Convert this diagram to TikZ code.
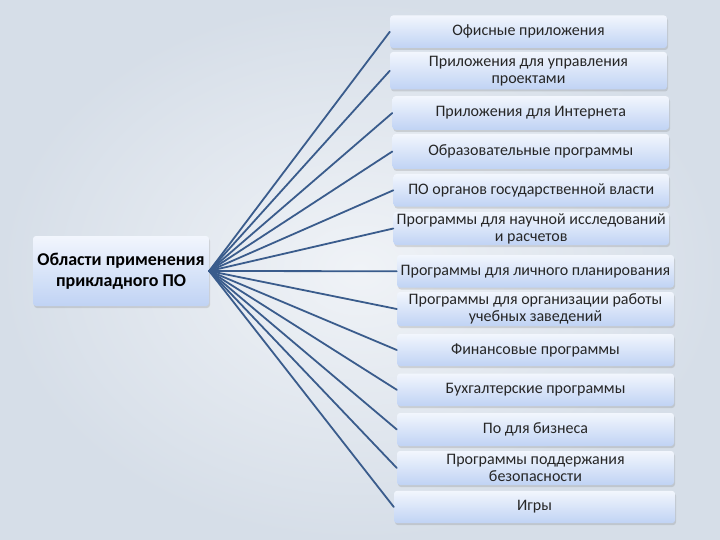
\documentclass[tikz,border=0pt]{standalone}
\usepackage{fontspec}
\setmainfont{Carlito}
\usetikzlibrary{shadows}
\definecolor{backdrop}{HTML}{F0F3F7}
\definecolor{backedge}{HTML}{D6DEE8}
\definecolor{boxtop}{HTML}{F2F6FD}
\definecolor{boxbottom}{HTML}{C0D3F4}
\definecolor{spoke}{HTML}{3A5C8C}
\newcommand{\boxfont}{\fontsize{16}{17}\selectfont}
\newcommand{\rootfont}{\fontsize{18}{21}\selectfont\bfseries}

\begin{document}
\begin{tikzpicture}[x=1pt,y=-1pt,
    area/.style={rounded corners=3pt, top color=boxtop, bottom color=boxbottom,
      drop shadow={shadow xshift=1pt, shadow yshift=-2pt, opacity=.2, fill=black!60},
      align=center, inner sep=0pt, text=black!85, font=\boxfont},
    spokeline/.style={spoke, line width=1.8pt, line cap=round}]
  % backdrop
  \useasboundingbox (0,0) rectangle (720,540);
  \fill[inner color=backdrop, outer color=backedge] (0,0) rectangle (720,540);

  % root box
  \node[area, minimum width=176, minimum height=70, font=\rootfont, text=black] (fields) at (121,271)
    {Области применения\\прикладного ПО};

  % leaf boxes
  \node[area, minimum width=277, minimum height=32.5] (office) at (528.5,31.75) {Офисные приложения};
  \node[area, minimum width=277, minimum height=37.5] (projects) at (528.5,70.75) {Приложения для управления\\проектами};
  \node[area, minimum width=276.5, minimum height=33.6] (internet) at (530.75,113) {Приложения для Интернета};
  \node[area, minimum width=276.5, minimum height=35] (education) at (530.75,151.5) {Образовательные программы};
  \node[area, minimum width=275.5, minimum height=32.6] (government) at (531.25,190.3) {ПО органов государственной власти};
  \node[area, minimum width=275.5, minimum height=33] (science) at (531.25,228.5) {Программы для научной исследований\\и расчетов};
  \node[area, minimum width=277, minimum height=32.5] (planning) at (535.5,271.25) {Программы для личного планирования};
  \node[area, minimum width=277, minimum height=34] (schools) at (535.5,309) {Программы для организации работы\\учебных заведений};
  \node[area, minimum width=277, minimum height=32] (finance) at (535.5,350) {Финансовые программы};
  \node[area, minimum width=277, minimum height=32.4] (accounting) at (535.5,389.8) {Бухгалтерские программы};
  \node[area, minimum width=277, minimum height=33] (business) at (535.5,429.5) {По для бизнеса};
  \node[area, minimum width=277, minimum height=34] (security) at (535.5,468) {Программы поддержания\\безопасности};
  \node[area, minimum width=281, minimum height=32.3] (games) at (534.5,507) {Игры};

  % spokes
  \draw[spokeline] (fields.east) -- (office.west);
  \draw[spokeline] (fields.east) -- (projects.west);
  \draw[spokeline] (fields.east) -- (internet.west);
  \draw[spokeline] (fields.east) -- (education.west);
  \draw[spokeline] (fields.east) -- (government.west);
  \draw[spokeline] (fields.east) -- (science.west);
  \draw[spokeline] (fields.east) -- (planning.west);
  \draw[spokeline] (fields.east) -- (schools.west);
  \draw[spokeline] (fields.east) -- (finance.west);
  \draw[spokeline] (fields.east) -- (accounting.west);
  \draw[spokeline] (fields.east) -- (business.west);
  \draw[spokeline] (fields.east) -- (security.west);
  \draw[spokeline] (fields.east) -- (games.west);
\end{tikzpicture}
\end{document}
